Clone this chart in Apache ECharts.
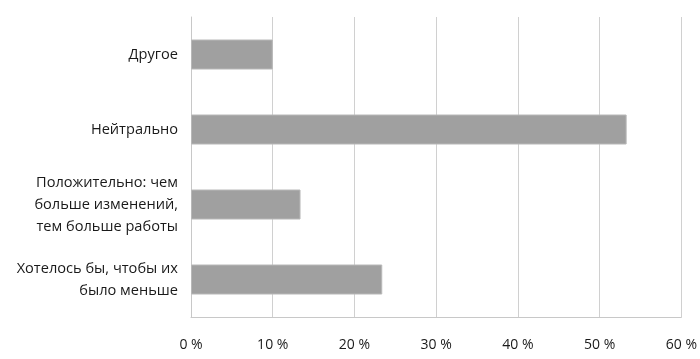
<!DOCTYPE html>
<html><head><meta charset="utf-8">
<script src="https://cdn.jsdelivr.net/npm/echarts@6/dist/echarts.min.js"></script>
<style>html,body{margin:0;padding:0;background:#fff}#c{width:700px;height:359px}</style>
</head><body><div id="c"></div>
<script>
const categories = ["Хотелось бы, чтобы их\nбыло меньше", "Положительно: чем\nбольше изменений,\nтем больше работы", "Нейтрально", "Другое"];
const values = [23.4, 13.4, 53.3, 10.0];
const xTicks = [0, 10, 20, 30, 40, 50, 60];

const chart = echarts.init(document.getElementById('c'));
chart.setOption({
  animation: false,
  grid: { left: 191, right: 17, top: 17, bottom: 42 },
  xAxis: {
    type: 'value', min: xTicks[0], max: xTicks[xTicks.length - 1], interval: 10,
    axisLine: { show: true, onZero: false, lineStyle: { color: '#c8c8c8' } },
    axisTick: { show: false },
    splitLine: { show: true, lineStyle: { color: '#d0d0d0', width: 1 } },
    axisLabel: { margin: 21, color: '#1a1a1a', fontFamily: 'Open Sans', fontSize: 14, formatter: v => v + ' %' }
  },
  yAxis: {
    type: 'category', data: categories,
    axisLine: { show: true, lineStyle: { color: '#c8c8c8' } },
    axisTick: { show: false },
    axisLabel: { margin: 13, color: '#1a1a1a', fontFamily: 'Open Sans', fontSize: 14.6, lineHeight: 22, align: 'right', padding: [6, 0, 0, 0] }
  },
  series: [{
    type: 'bar', data: values, barWidth: '40%',
    itemStyle: { color: '#a0a0a0', borderColor: '#b8b8b8', borderWidth: 1 }
  }]
});
</script></body></html>
